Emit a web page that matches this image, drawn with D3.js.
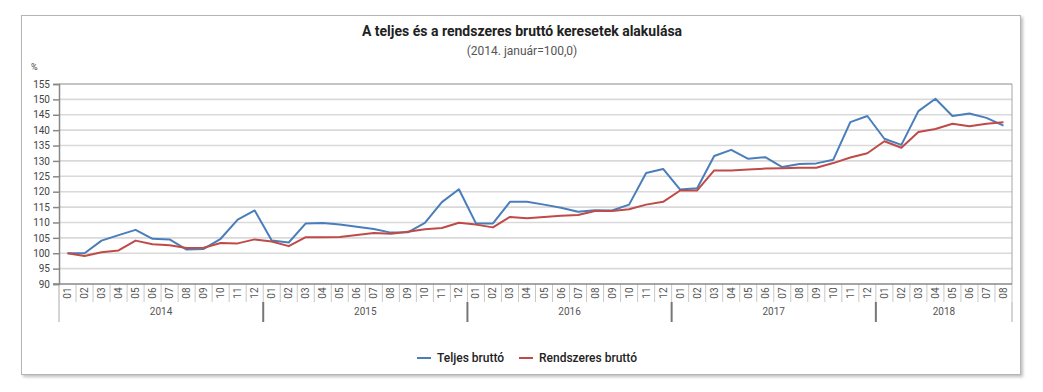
<!DOCTYPE html>
<html>
<head>
<meta charset="utf-8">
<script src="https://cdn.jsdelivr.net/npm/d3@7"></script>
<style>
  body { margin: 0; background: #fff; }
  svg { display: block; font-family: Roboto, "Noto Sans", sans-serif; }
</style>
</head>
<body>
<svg id="chart" width="1043" height="392"></svg>
<script>
const years = ["2014", "2015", "2016", "2017", "2018"];
const monthsPerYear = [12, 12, 12, 12, 8];
const monthLabels = ["01","02","03","04","05","06","07","08","09","10","11","12"];
const yTicks = [90, 95, 100, 105, 110, 115, 120, 125, 130, 135, 140, 145, 150, 155];
const seriesNames = ["Teljes bruttó", "Rendszeres bruttó"];
const teljes = [
  100.0, 100.0, 104.1, 105.9, 107.6, 104.7, 104.5, 101.2, 101.4, 104.7, 110.9, 113.9,
  104.1, 103.5, 109.7, 109.8, 109.3, 108.6, 107.9, 106.7, 106.8, 109.9, 116.6, 120.8,
  109.7, 109.7, 116.7, 116.7, 115.8, 114.8, 113.5, 114.0, 113.9, 115.8, 126.1, 127.4,
  120.7, 121.1, 131.6, 133.6, 130.7, 131.2, 128.0, 129.0, 129.2, 130.4, 142.6, 144.6,
  137.2, 135.2, 146.2, 150.2, 144.6, 145.4, 144.0, 141.5
];
const rendszeres = [
  100.0, 99.1, 100.3, 100.9, 104.1, 102.9, 102.6, 101.7, 101.8, 103.3, 103.2, 104.5,
  103.8, 102.3, 105.2, 105.2, 105.3, 105.9, 106.6, 106.3, 107.0, 107.8, 108.2, 109.9,
  109.3, 108.4, 111.8, 111.4, 111.8, 112.2, 112.4, 113.7, 113.7, 114.3, 115.8, 116.7,
  120.4, 120.4, 126.9, 126.9, 127.2, 127.5, 127.6, 127.8, 127.8, 129.3, 131.1, 132.5,
  136.4, 134.3, 139.4, 140.4, 142.1, 141.3, 142.1, 142.6
];

const colors = ["#4a7ebb", "#be4b48"];

// build categories
const cats = [];
years.forEach((y, yi) => {
  for (let m = 0; m < monthsPerYear[yi]; m++) cats.push({ key: y + "-" + monthLabels[m], year: y, month: monthLabels[m] });
});

const svg = d3.select("#chart");

// frame with shadow
const defs = svg.append("defs");
const f = defs.append("filter").attr("id", "sh").attr("x", "-5%").attr("y", "-5%").attr("width", "110%").attr("height", "115%");
f.append("feDropShadow").attr("dx", 2).attr("dy", 2).attr("stdDeviation", 1.5).attr("flood-color", "#000").attr("flood-opacity", 0.25);
svg.append("rect").attr("x", 21.5).attr("y", 15.5).attr("width", 999).attr("height", 359)
  .attr("fill", "#fff").attr("stroke", "#b5b5b5").attr("stroke-width", 1).attr("filter", "url(#sh)");

const L = 59, R = 1012, T = 84, B = 284;

const x = d3.scaleBand().domain(cats.map(d => d.key)).range([L, R]).padding(0);
const y = d3.scaleLinear().domain([90, 155]).range([B, T]);

// title
svg.append("text").attr("x", 522).attr("y", 36).attr("text-anchor", "middle")
  .attr("font-size", 14).attr("font-weight", "bold").attr("fill", "#222")
  .text("A teljes és a rendszeres bruttó keresetek alakulása");
svg.append("text").attr("x", 522).attr("y", 55).attr("text-anchor", "middle")
  .attr("font-size", 12).attr("fill", "#555").text("(2014. január=100,0)");
svg.append("text").attr("x", 31).attr("y", 70).attr("font-size", 9).attr("fill", "#444").text("%");

// gridlines
svg.append("g").selectAll("line").data(yTicks.filter(t => t > 90)).join("line")
  .attr("x1", L).attr("x2", R).attr("y1", d => y(d)).attr("y2", d => y(d))
  .attr("stroke", "#d9d9d9").attr("stroke-width", 1.6);

// plot border (top/right)
svg.append("path").attr("d", `M${L},${T}H${R}V${B}`).attr("fill", "none").attr("stroke", "#a6a6a6").attr("stroke-width", 1);

// y axis
const yAxis = d3.axisLeft(y).tickValues(yTicks).tickSize(6).tickPadding(3);
const gy = svg.append("g").attr("transform", `translate(${L},0)`).call(yAxis);
gy.select(".domain").attr("stroke", "#888").attr("stroke-width", 1.5);
gy.selectAll(".tick line").attr("stroke", "#888").attr("stroke-width", 1.5);
gy.selectAll(".tick text").attr("font-size", 10).attr("fill", "#444").attr("font-family", "Roboto, sans-serif");

// x axis month separators
const gx = svg.append("g");
const bw = x.bandwidth();
gx.selectAll("line.sep").data(cats).join("line").attr("class", "sep")
  .attr("x1", d => x(d.key) + bw).attr("x2", d => x(d.key) + bw)
  .attr("y1", B).attr("y2", 302).attr("stroke", "#c8c8c8").attr("stroke-width", 1);
gx.selectAll("text.mon").data(cats).join("text").attr("class", "mon")
  .attr("transform", d => `translate(${x(d.key) + bw / 2 + 3.5},293) rotate(-90)`)
  .attr("text-anchor", "middle").attr("font-size", 10).attr("fill", "#555").text(d => d.month);

// year groups
let idx = 0;
const yearGroups = years.map((yr, yi) => {
  const start = x(cats[idx].key);
  const end = x(cats[idx + monthsPerYear[yi] - 1].key) + bw;
  idx += monthsPerYear[yi];
  return { year: yr, start, end };
});
gx.append("line").attr("x1", L).attr("x2", L).attr("y1", B).attr("y2", 322).attr("stroke", "#aaa").attr("stroke-width", 1);
gx.append("line").attr("x1", R).attr("x2", R).attr("y1", 302).attr("y2", 322).attr("stroke", "#aaa").attr("stroke-width", 1);
gx.selectAll("line.ysep").data(yearGroups.slice(1)).join("line").attr("class", "ysep")
  .attr("x1", d => d.start).attr("x2", d => d.start).attr("y1", 302).attr("y2", 322)
  .attr("stroke", "#777").attr("stroke-width", 2);
gx.selectAll("text.yr").data(yearGroups).join("text").attr("class", "yr")
  .attr("x", d => (d.start + d.end) / 2).attr("y", 315).attr("text-anchor", "middle")
  .attr("font-size", 10).attr("fill", "#555").text(d => d.year);

// x axis line
svg.append("line").attr("x1", L - 6).attr("x2", R).attr("y1", B).attr("y2", B).attr("stroke", "#888").attr("stroke-width", 1.5);

// lines
const line = d3.line().x((d, i) => x(cats[i].key) + bw / 2).y(d => y(d));
[teljes, rendszeres].forEach((s, i) => {
  svg.append("path").datum(s).attr("d", line).attr("fill", "none")
    .attr("stroke", colors[i]).attr("stroke-width", 2).attr("stroke-linejoin", "round");
});

// legend
const leg = [{ x: 417, tx: 437 }, { x: 519, tx: 539 }];
seriesNames.forEach((n, i) => {
  svg.append("line").attr("x1", leg[i].x).attr("x2", leg[i].x + 14).attr("y1", 358).attr("y2", 358)
    .attr("stroke", colors[i]).attr("stroke-width", 2);
  svg.append("text").attr("x", leg[i].tx).attr("y", 362).attr("font-size", 12).attr("font-weight", 500)
    .attr("fill", "#222").text(n);
});
</script>
</body>
</html>
